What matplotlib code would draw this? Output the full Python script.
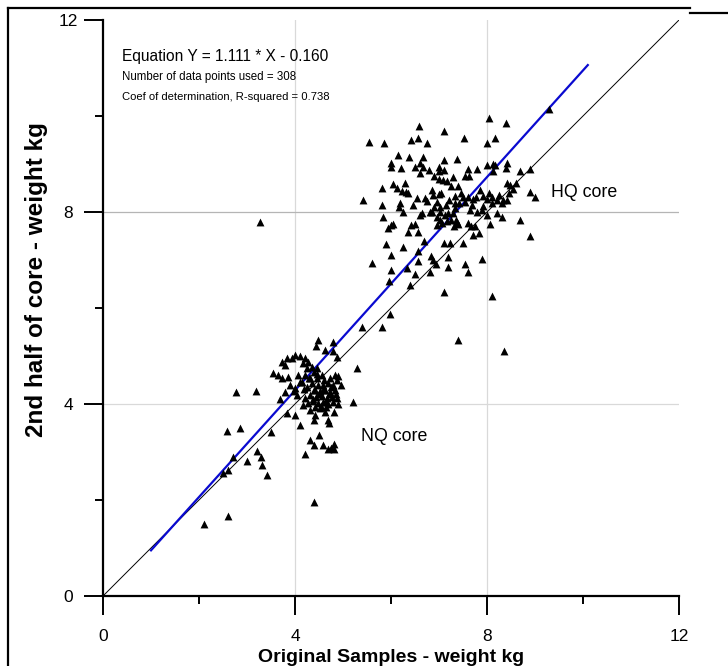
import matplotlib
matplotlib.use("Agg")
import matplotlib.pyplot as plt
from matplotlib.lines import Line2D
import numpy as np

plt.rcParams['font.family'] = ['Liberation Sans', 'DejaVu Sans']

# ---------------- data (original weight kg, 2nd half weight kg) ----------------
nq_points = [
    (2.10, 1.49), (2.60, 1.66), (2.51, 2.56), (2.60, 2.63), (2.71, 2.90), (3.00, 2.82),
    (3.20, 3.02), (3.30, 2.90), (3.31, 2.73), (3.41, 2.52), (2.58, 3.44), (2.85, 3.49),
    (3.51, 3.41), (2.78, 4.24), (3.19, 4.28), (4.20, 2.96), (4.40, 1.96), (5.20, 4.05),
    (5.29, 4.74),
    (4.47, 5.33), (4.44, 5.21), (4.80, 5.30), (4.63, 5.13), (4.80, 5.11), (4.87, 4.98),
    (4.00, 5.02), (4.10, 4.99), (3.93, 4.95), (3.83, 4.95), (3.72, 4.88), (3.79, 4.81),
    (4.21, 4.95), (4.28, 4.88), (4.17, 4.85), (4.35, 4.78), (4.24, 4.74), (4.45, 4.74),
    (3.55, 4.64), (3.65, 4.60), (3.72, 4.54), (3.86, 4.57), (4.07, 4.60), (4.21, 4.60),
    (4.31, 4.54), (4.45, 4.54), (4.56, 4.60), (4.83, 4.60), (4.87, 4.50), (4.90, 4.59),
    (3.90, 4.40), (4.00, 4.33), (3.79, 4.26), (4.04, 4.19), (3.69, 4.10), (3.98, 4.27),
    (4.35, 4.44), (4.48, 4.40), (4.58, 4.40), (4.69, 4.44), (4.79, 4.40), (4.42, 4.29),
    (4.52, 4.27), (4.63, 4.29), (4.73, 4.25), (4.83, 4.29), (4.31, 4.19), (4.44, 4.15),
    (4.56, 4.17), (4.67, 4.13), (4.77, 4.15), (4.88, 4.13), (4.21, 4.13), (4.27, 4.02),
    (4.38, 4.06), (4.48, 4.02), (4.58, 4.04), (4.69, 4.00), (4.79, 4.04), (4.17, 3.98),
    (4.42, 3.94), (4.52, 3.92), (4.65, 3.94), (4.90, 4.00), (4.31, 3.88), (4.63, 3.83),
    (4.40, 4.67), (4.10, 4.46), (4.19, 4.31), (4.96, 4.40),
    (4.25, 4.35), (4.50, 4.20), (4.60, 4.50), (4.70, 4.20), (4.38, 4.10), (4.55, 3.95),
    (4.75, 4.35), (4.45, 4.62), (4.15, 4.45), (4.65, 4.05), (4.85, 4.20), (4.30, 4.55),
    (4.40, 4.30), (4.72, 4.55), (4.58, 4.30),
    (3.83, 3.81), (4.00, 3.77), (4.10, 3.56), (4.42, 3.77), (4.40, 3.67), (4.81, 3.84),
    (4.69, 3.67), (4.71, 3.60), (4.31, 3.25), (4.49, 3.35), (4.40, 3.15), (4.59, 3.15),
    (4.69, 3.06), (4.76, 3.08), (4.82, 3.17), (4.81, 3.07),
]

hq_points = [
    (8.05, 9.95), (8.40, 9.85), (9.30, 10.14), (6.58, 9.79), (7.11, 9.69), (5.55, 9.46),
    (5.86, 9.44), (6.41, 9.51), (6.56, 9.54), (6.76, 9.44), (7.52, 9.54), (8.00, 9.44),
    (8.17, 9.54),
    (6.15, 9.18), (6.37, 9.15), (6.01, 9.03), (6.01, 8.94), (6.21, 8.92), (6.51, 8.94),
    (6.60, 9.03), (6.66, 9.14), (6.67, 8.94), (6.79, 8.88), (6.60, 8.82), (7.00, 8.94),
    (7.10, 9.08), (7.38, 9.11), (7.00, 8.85), (7.11, 8.88), (6.99, 8.69), (7.09, 8.67),
    (7.16, 8.65), (7.30, 8.72), (7.61, 8.89), (7.79, 8.90), (7.55, 8.75), (7.63, 8.75),
    (8.01, 8.98), (8.12, 9.01), (8.17, 8.97), (8.41, 9.03), (8.39, 8.91), (8.13, 8.85),
    (8.69, 8.85), (8.90, 8.90),
    (6.05, 8.58), (6.12, 8.49), (6.22, 8.44), (6.31, 8.42), (6.36, 8.40), (5.81, 8.49),
    (5.42, 8.26), (5.81, 8.15), (5.84, 7.90), (6.19, 8.19), (6.17, 8.10), (6.26, 7.99),
    (5.99, 7.73), (5.94, 7.66), (6.05, 7.76),
    (6.74, 8.23), (6.88, 8.35), (6.99, 8.37), (6.95, 8.21), (7.02, 8.11), (6.90, 8.11),
    (6.86, 8.01), (7.02, 8.01), (7.33, 8.33), (7.33, 8.18), (7.51, 8.32), (7.41, 8.18),
    (7.33, 8.08), (7.30, 7.97), (7.26, 7.83), (7.35, 7.83), (7.40, 7.75), (7.31, 7.71),
    (6.64, 7.97), (6.60, 7.94), (6.81, 8.01), (7.13, 7.94), (7.19, 7.97),
    (7.61, 8.32), (7.71, 8.28), (7.78, 8.32), (7.92, 8.33), (7.99, 8.28), (8.10, 8.32),
    (8.20, 8.25), (8.34, 8.26), (8.41, 8.25), (8.31, 8.18), (8.10, 8.18), (7.92, 8.13),
    (7.80, 8.01), (7.68, 8.15), (7.99, 7.94), (8.20, 7.97), (8.31, 7.90), (8.06, 7.76),
    (8.69, 7.83), (8.90, 7.50), (8.90, 8.42), (9.00, 8.31), (8.41, 8.61), (8.48, 8.56),
    (8.55, 8.47), (8.60, 8.60),
    (6.42, 7.73), (6.50, 7.75), (6.36, 7.59), (6.57, 7.59), (6.69, 7.40), (6.95, 7.73),
    (7.02, 7.83), (7.07, 7.78), (7.16, 7.82), (7.37, 7.80), (7.60, 7.78), (7.66, 7.71),
    (7.75, 7.71), (7.84, 7.56), (7.71, 7.52), (7.49, 7.36), (7.23, 7.35), (7.11, 7.36),
    (5.90, 7.33), (6.26, 7.28), (6.57, 7.19), (6.00, 7.10), (5.60, 6.93), (6.00, 6.79),
    (5.96, 6.57), (6.83, 7.09), (6.88, 7.00), (6.93, 6.92), (7.18, 7.07), (7.19, 6.86),
    (7.55, 6.91), (7.60, 6.76), (7.90, 7.02), (6.81, 6.76), (6.57, 6.97), (6.51, 6.71),
    (6.34, 6.83), (6.40, 6.48), (7.10, 6.33), (8.10, 6.24), (5.98, 5.87), (5.81, 5.60),
    (5.40, 5.61), (7.40, 5.33), (8.35, 5.11),
    (6.70, 8.30), (6.85, 8.45), (7.05, 8.40), (7.20, 8.25), (7.45, 8.40), (7.55, 8.20),
    (7.85, 8.45), (8.05, 8.40), (7.25, 8.55), (6.45, 8.15), (6.55, 8.30), (7.90, 8.05),
    (8.25, 8.35), (7.15, 8.15), (6.95, 7.90), (7.65, 8.05), (8.45, 8.40), (7.40, 8.55),
    (6.30, 8.60), (6.90, 8.75),
    (3.27, 7.79),
]

fit_slope = 1.111
fit_intercept = -0.160
fit_x_range = [1.0, 10.1]
n_points = 308
r_squared = 0.738

axis_ticks = [0, 4, 8, 12]
minor_ticks = [2, 6, 10]
grid_values = [4, 8]

# ---------------- figure ----------------
W, H = 728, 666
fig = plt.figure(figsize=(W / 100, H / 100), dpi=100)
ax = fig.add_axes([103 / W, 70 / H, 576 / W, 576 / H])

ax.set_xlim(0, 12)
ax.set_ylim(0, 12)

# grid lines (interior only)
for g in grid_values:
    ax.axvline(g, color='#d9d9d9', lw=0.9, zorder=0)
    ax.axhline(g, color='#b5b5b5' if g == 8 else '#d9d9d9', lw=0.9, zorder=0)

# 1:1 line
ax.plot([0, 12], [0, 12], color='black', lw=0.7, zorder=1)

# regression line
fx = np.array(fit_x_range)
ax.plot(fx, fit_slope * fx + fit_intercept, color='#0a0ad0', lw=1.6, zorder=2)

# points
allp = nq_points + hq_points
px = [p[0] for p in allp]
py = [p[1] for p in allp]
ax.scatter(px, py, marker='^', s=32, color='black', linewidths=0, zorder=3)

# spines and ticks
for side in ['top', 'right']:
    ax.spines[side].set_visible(False)
for side in ['left', 'bottom']:
    ax.spines[side].set_linewidth(1.6)
ax.set_xticks(axis_ticks)
ax.set_yticks(axis_ticks)
ax.set_xticks(minor_ticks, minor=True)
ax.set_yticks(minor_ticks, minor=True)
ax.set_xticklabels([str(t) for t in axis_ticks])
ax.set_yticklabels([str(t) for t in axis_ticks])
ax.tick_params(which='major', direction='out', length=13.5, width=1.4, labelsize=12.5)
ax.tick_params(which='minor', direction='out', length=6, width=1.4)
ax.tick_params(axis='x', which='major', pad=10)
ax.tick_params(axis='y', which='major', pad=11.5)
for lab in ax.get_yticklabels():
    lab.set_horizontalalignment('center')

ax.set_xlabel('Original Samples - weight kg', fontsize=14, fontweight='bold')
ax.xaxis.set_label_coords(0.5, -(658 - 596 - 9) / 576)
ax.set_ylabel('2nd half of core - weight kg', fontsize=17.5, fontweight='bold')
ax.yaxis.set_label_coords(-(103 - 48) / 576, (596 - 280) / 576)

# annotations
ax.text(0.40, 11.23, f'Equation Y = {fit_slope:.3f} * X - {abs(fit_intercept):.3f}',
        fontsize=11.2, ha='left', va='center')
ax.text(0.40, 10.81, f'Number of data points used = {n_points}', fontsize=8.3,
        ha='left', va='center')
ax.text(0.40, 10.40, f'Coef of determination, R-squared = {r_squared:.3f}', fontsize=8.1,
        ha='left', va='center')
ax.text(9.33, 8.40, 'HQ core', fontsize=12.8, ha='left', va='center')
ax.text(5.38, 3.33, 'NQ core', fontsize=12.8, ha='left', va='center')

# outer frame fragments
fig.add_artist(Line2D([8 / W, 8 / W], [0, 1 - 8 / H], transform=fig.transFigure,
                      color='black', lw=1.6))
fig.add_artist(Line2D([8 / W, 690 / W], [1 - 8 / H, 1 - 8 / H], transform=fig.transFigure,
                      color='black', lw=1.6))
fig.add_artist(Line2D([690 / W, 1], [1 - 13 / H, 1 - 13 / H], transform=fig.transFigure,
                      color='black', lw=1.6))

fig.savefig('out.png', dpi=100)
